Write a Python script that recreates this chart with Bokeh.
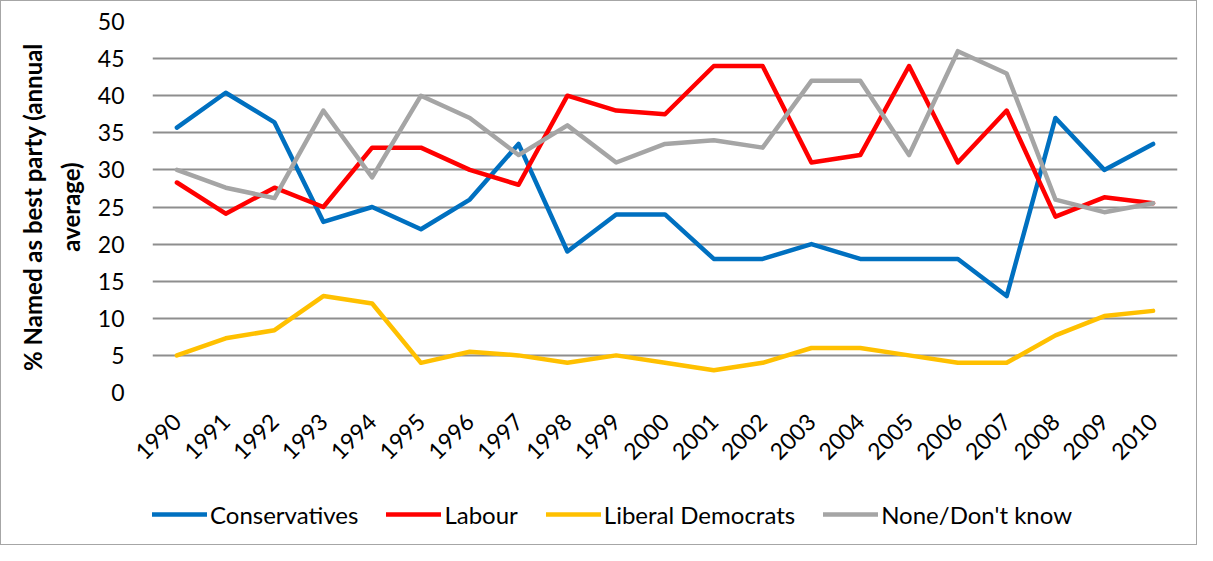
import math
from bokeh.plotting import figure
from bokeh.layouts import column
from bokeh.models import FactorRange, Range1d, FixedTicker, Legend, LegendItem
from bokeh.embed import file_html
from bokeh.resources import INLINE

years = [str(y) for y in range(1990, 2011)]
conservatives = [35.7, 40.4, 36.4, 23, 25, 22, 26, 33.5, 19, 24, 24, 18, 18, 20, 18, 18, 18, 13, 37, 30, 33.5]
labour = [28.3, 24.1, 27.6, 25, 33, 33, 30, 28, 40, 38, 37.5, 44, 44, 31, 32, 44, 31, 38, 23.7, 26.3, 25.5]
libdems = [5, 7.3, 8.4, 13, 12, 4, 5.5, 5, 4, 5, 4, 3, 4, 6, 6, 5, 4, 4, 7.7, 10.3, 11]
none_dk = [30, 27.6, 26.2, 38, 29, 40, 37, 32, 36, 31, 33.5, 34, 33, 42, 42, 32, 46, 43, 26, 24.3, 25.5]

series_names = ["Conservatives", "Labour", "Liberal Democrats", "None/Don't know"]
series_values = [conservatives, labour, libdems, none_dk]
colors = ["#0070C0", "#FF0000", "#FFC000", "#A5A5A5"]

FONT = "Lato"

p = figure(width=1195, height=469, x_range=FactorRange(*years), y_range=Range1d(0, 50),
           output_backend="svg", toolbar_location=None,
           min_border_left=151, min_border_right=19, min_border_top=20, min_border_bottom=76)
p.outline_line_color = None
p.background_fill_color = "white"
p.border_fill_color = "white"

p.xgrid.grid_line_color = None
p.ygrid.grid_line_color = "#8E8E8E"
p.ygrid.grid_line_width = 2

p.yaxis.ticker = FixedTicker(ticks=list(range(0, 51, 5)))
p.yaxis.axis_line_color = None
p.yaxis.major_tick_line_color = None
p.yaxis.minor_tick_line_color = None
p.yaxis.major_label_standoff = 22
p.yaxis.major_label_text_font = FONT
p.yaxis.major_label_text_font_size = "23px"
p.yaxis.major_label_text_color = "black"
p.yaxis.axis_label = "% Named as best party (annual\naverage)"
p.yaxis.axis_label_text_font = FONT
p.yaxis.axis_label_text_font_style = "bold"
p.yaxis.axis_label_text_font_size = "24px"
p.yaxis.axis_label_text_color = "black"
p.yaxis.axis_label_standoff = 10
p.yaxis.axis_label_text_line_height = 1.3

p.xaxis.axis_line_color = None
p.xaxis.major_tick_line_color = None
p.xaxis.minor_tick_line_color = None
p.xaxis.major_label_orientation = math.pi / 4
p.xaxis.major_label_standoff = 19
p.xaxis.major_label_text_font = FONT
p.xaxis.major_label_text_font_size = "23px"
p.xaxis.major_label_text_color = "black"

for name, vals, c in zip(series_names, series_values, colors):
    p.line(years, vals, line_color=c, line_width=4.5, line_cap="round", line_join="round")

# legend strip underneath the chart (its frame lines up with the chart's frame)
lg = figure(width=1195, height=74, x_range=Range1d(0, 1), y_range=Range1d(0, 1),
            x_axis_type=None, y_axis_type=None, output_backend="svg", toolbar_location=None,
            min_border_left=151, min_border_right=19, min_border_top=0, min_border_bottom=0)
lg.outline_line_color = None
lg.grid.visible = False
lg.background_fill_color = "white"
lg.border_fill_color = "white"
items = []
for name, c in zip(series_names, colors):
    r = lg.line(x=[float("nan")], y=[float("nan")], line_color=c, line_width=4.5, line_cap="round")
    items.append(LegendItem(label=name, renderers=[r]))

legend = Legend(items=items, orientation="horizontal", location=(0, 15),
                glyph_width=55, glyph_height=30, label_height=30, label_standoff=3,
                spacing=28, padding=0, margin=0, border_line_color=None,
                background_fill_alpha=0, label_text_font=FONT, label_text_font_size="24px",
                label_text_color="black")
lg.add_layout(legend, "center")

layout = column(p, lg, spacing=0)
layout.styles = {"border": "1px solid #A6A6A6"}
open("out.html", "w").write(file_html(layout, INLINE))
